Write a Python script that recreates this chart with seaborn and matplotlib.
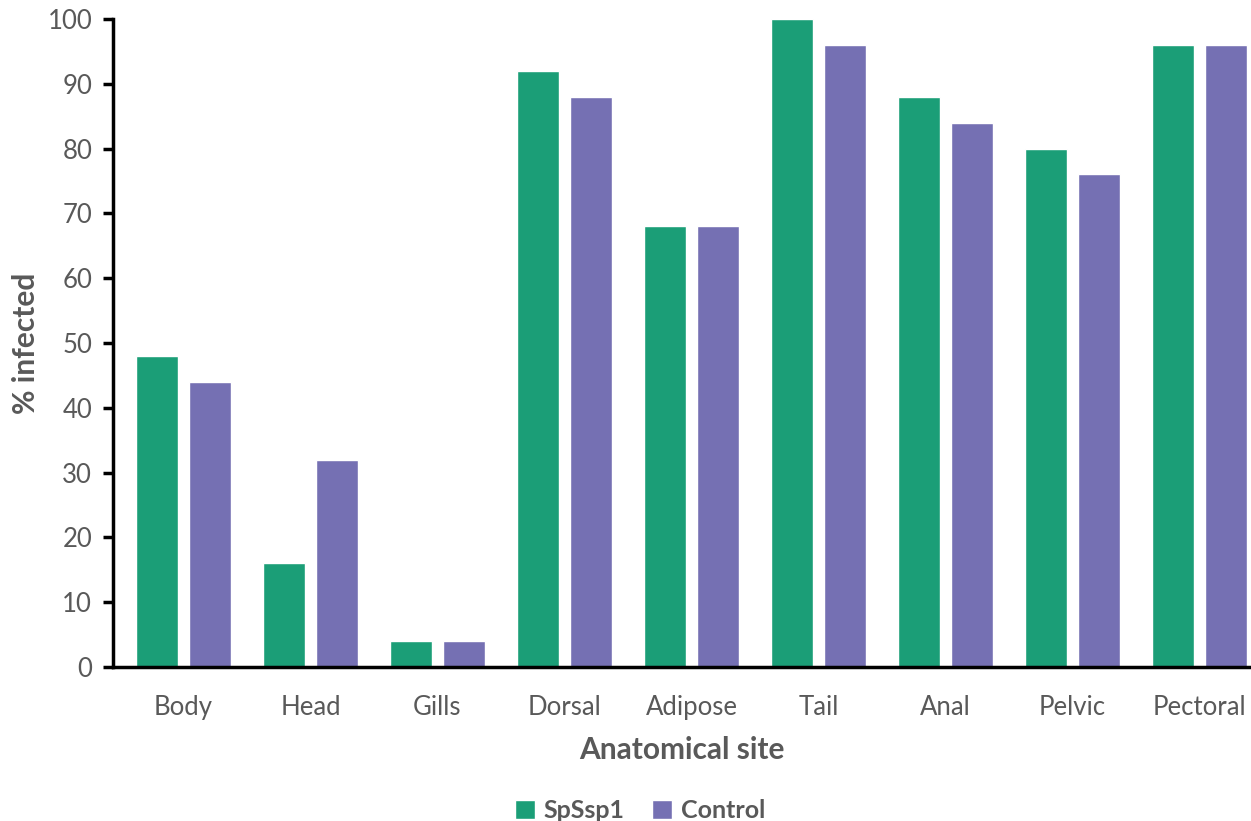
import matplotlib
matplotlib.use("Agg")
import matplotlib.pyplot as plt
import pandas as pd
import seaborn as sns

sites = ["Body", "Head", "Gills", "Dorsal", "Adipose", "Tail", "Anal", "Pelvic", "Pectoral"]
spssp1 = [48, 16, 4, 92, 68, 100, 88, 80, 96]
control = [44, 32, 4, 88, 68, 96, 84, 76, 96]
groups = ["SpSsp1", "Control"]
colors = ["#1b9e77", "#7570b3"]

df = pd.DataFrame({
    "site": sites * 2,
    "group": [groups[0]] * len(sites) + [groups[1]] * len(sites),
    "pct": spssp1 + control,
})

sns.set_style("white")
plt.rcParams["font.family"] = ["Lato", "DejaVu Sans"]
grey = "#595959"

fig = plt.figure(figsize=(12.51, 8.21), dpi=100)
ax = fig.add_axes([0.0903, 0.1876, 0.9097, 0.7893])

sns.barplot(data=df, x="site", y="pct", hue="group", palette=colors,
            width=0.835, gap=0.207, saturation=1, ax=ax, errorbar=None)

ax.set_xlim(-0.555, 8.405)
ax.set_ylim(0, 100)
ax.set_yticks(range(0, 101, 10))

for side in ["top", "right"]:
    ax.spines[side].set_visible(False)
for side in ["left", "bottom"]:
    ax.spines[side].set_color("black")
    ax.spines[side].set_linewidth(2.5)

ax.tick_params(axis="y", direction="out", length=7, width=2.5, color="black",
               labelsize=18.5, labelcolor=grey, pad=8, left=True)
ax.tick_params(axis="x", length=0, labelsize=18.5, labelcolor=grey, pad=20)

ax.set_xlabel("Anatomical site", fontsize=21.5, fontweight="bold", color=grey, labelpad=12)
ax.set_ylabel("% infected", fontsize=21.5, fontweight="bold", color=grey, labelpad=5)

# legend sits low, partly cut by the bottom edge like the original
handles, labels = ax.get_legend_handles_labels()
ax.legend(handles, labels, loc="center", bbox_to_anchor=(0.463, -0.222), ncol=2,
          frameon=False, handlelength=0.8, handleheight=0.8, handletextpad=0.35,
          columnspacing=1.1, prop={"size": 18, "weight": "bold"}, labelcolor=grey)

fig.savefig("out.png", dpi=100)
